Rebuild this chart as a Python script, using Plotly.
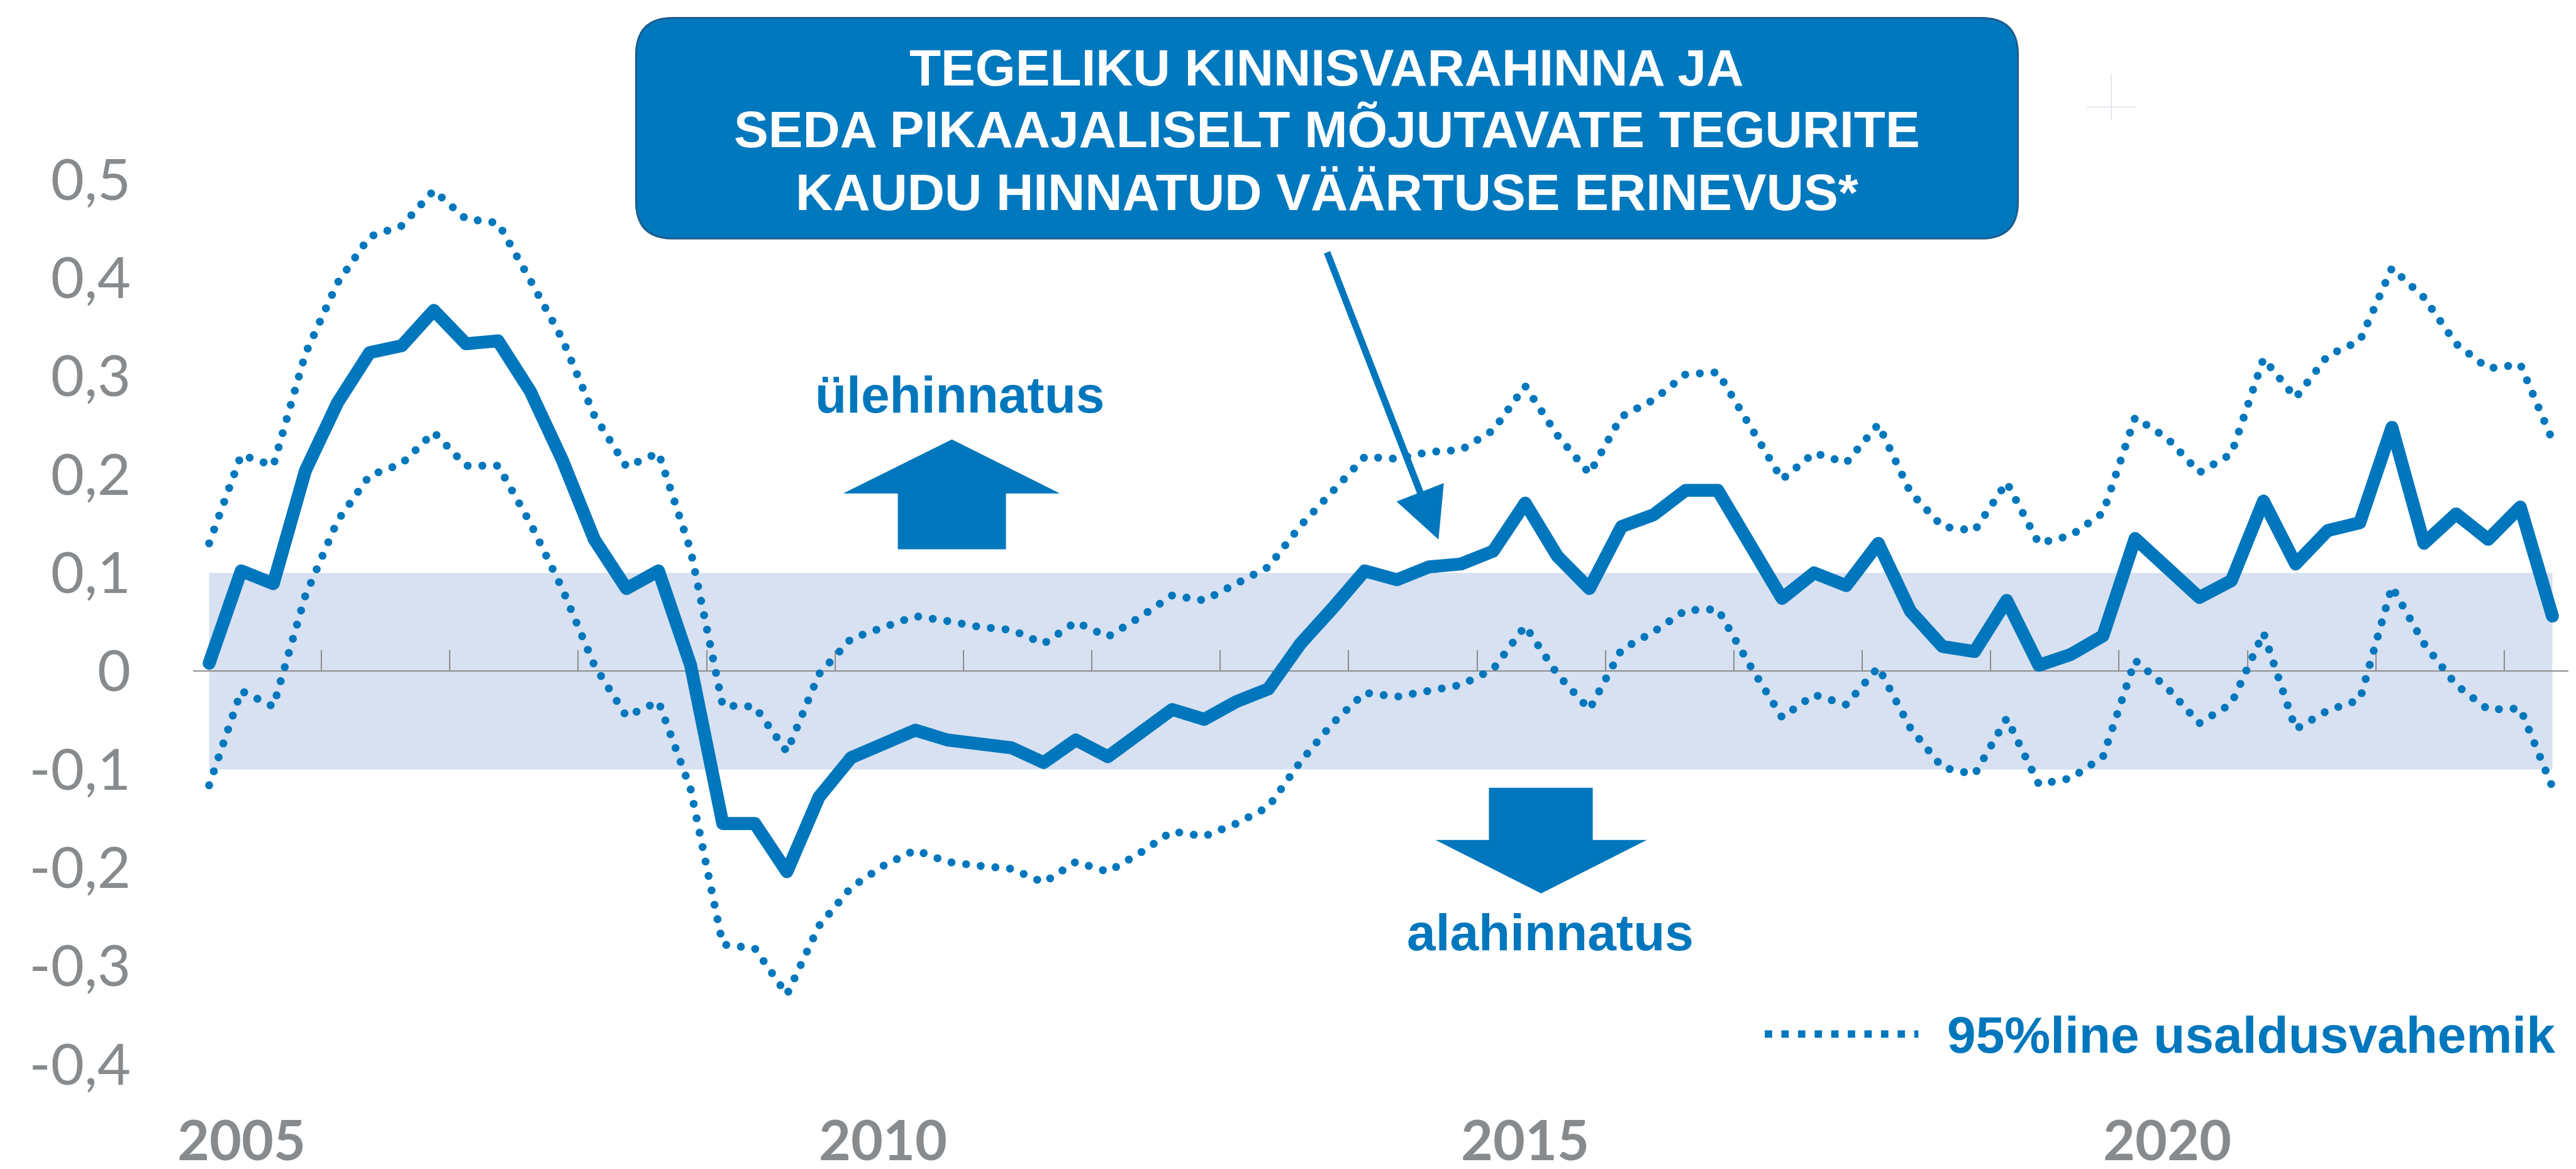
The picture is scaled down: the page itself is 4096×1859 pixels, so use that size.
import plotly.graph_objects as go

# ---------------- data (quarterly, 2005Q1 .. 2023Q2) ----------------
quarters = [f"{2005 + i // 4}Q{i % 4 + 1}" for i in range(74)]

gap = [0.008, 0.102, 0.089, 0.204, 0.273, 0.324, 0.331, 0.367, 0.333, 0.336,
       0.285, 0.215, 0.134, 0.084, 0.102, 0.006, -0.155, -0.155, -0.204, -0.128,
       -0.088, -0.074, -0.060, -0.070, -0.075, -0.078, -0.093, -0.070, -0.087, -0.063,
       -0.039, -0.049, -0.031, -0.018, 0.028, 0.064, 0.102, 0.093, 0.106, 0.109,
       0.122, 0.171, 0.117, 0.084, 0.147, 0.159, 0.184, 0.184, 0.131, 0.074,
       0.100, 0.087, 0.130, 0.061, 0.025, 0.020, 0.072, 0.006, 0.017, 0.036,
       0.135, 0.106, 0.075, 0.092, 0.173, 0.109, 0.143, 0.151, 0.248, 0.130,
       0.160, 0.134, 0.167, 0.056]

upper = [0.130, 0.220, 0.209, 0.323, 0.395, 0.442, 0.453, 0.489, 0.460, 0.456,
         0.398, 0.338, 0.260, 0.208, 0.222, 0.123, -0.035, -0.036, -0.082, -0.003,
         0.033, 0.044, 0.056, 0.051, 0.045, 0.042, 0.028, 0.050, 0.035, 0.055,
         0.077, 0.072, 0.089, 0.106, 0.148, 0.184, 0.218, 0.216, 0.223, 0.225,
         0.245, 0.290, 0.240, 0.201, 0.259, 0.276, 0.302, 0.304, 0.248, 0.195,
         0.222, 0.212, 0.251, 0.182, 0.147, 0.143, 0.192, 0.130, 0.138, 0.161,
         0.258, 0.237, 0.202, 0.221, 0.318, 0.278, 0.321, 0.336, 0.410, 0.380,
         0.333, 0.308, 0.312, 0.235]

lower = [-0.116, -0.020, -0.036, 0.077, 0.153, 0.199, 0.211, 0.243, 0.209, 0.209,
         0.151, 0.084, 0.006, -0.046, -0.031, -0.120, -0.278, -0.282, -0.329, -0.259,
         -0.220, -0.198, -0.182, -0.194, -0.198, -0.201, -0.215, -0.194, -0.204, -0.185,
         -0.163, -0.168, -0.155, -0.138, -0.092, -0.053, -0.022, -0.026, -0.020, -0.014,
         0.002, 0.046, -0.003, -0.039, 0.022, 0.040, 0.062, 0.063, 0.006, -0.047,
         -0.024, -0.034, 0.004, -0.058, -0.098, -0.105, -0.048, -0.115, -0.109, -0.087,
         0.011, -0.017, -0.053, -0.033, 0.039, -0.059, -0.040, -0.029, 0.086, 0.028,
         -0.014, -0.039, -0.038, -0.118]

band_low, band_high = -0.1, 0.1

y_tick_vals = [0.5, 0.4, 0.3, 0.2, 0.1, 0.0, -0.1, -0.2, -0.3, -0.4]
y_tick_text = ["0,5", "0,4", "0,3", "0,2", "0,1", "0", "-0,1", "-0,2", "-0,3", "-0,4"]

year_labels = ["2005", "2010", "2015", "2020"]
year_label_quarters = ["2005Q2", "2010Q2", "2015Q2", "2020Q2"]

title_lines = ["TEGELIKU KINNISVARAHINNA JA",
               "SEDA PIKAAJALISELT MÕJUTAVATE TEGURITE",
               "KAUDU HINNATUD VÄÄRTUSE ERINEVUS*"]
over_label = "ülehinnatus"
under_label = "alahinnatus"
legend_label = "95%line usaldusvahemik"

# ---------------- layout geometry ----------------
S = 0.977                    # reference -> window scale
WIN_W, WIN_H = 4096, 1859
ML, MR, MT, MB = 299, 20, 90, 18
PW = WIN_W - ML - MR
PH = WIN_H - MT - MB

BLUE = "#0077BD"
GREY = "#878B8E"
AXIS_GREY = "#8C8C8C"
BAND = "#D7E1F1"


def xp(xf):
    return (xf * S - ML) / PW


def yp(yf):
    return (WIN_H - MB - yf * S) / PH


def path_from(points, close=True):
    d = "M " + " L ".join(f"{xp(x):.5f},{yp(y):.5f}" for x, y in points)
    return d + (" Z" if close else "")


def rounded_rect(x0, y0, x1, y1, r):
    def P(x, y):
        return f"{xp(x):.5f},{yp(y):.5f}"
    return (f"M {P(x0 + r, y0)} L {P(x1 - r, y0)} Q {P(x1, y0)} {P(x1, y0 + r)} "
            f"L {P(x1, y1 - r)} Q {P(x1, y1)} {P(x1 - r, y1)} "
            f"L {P(x0 + r, y1)} Q {P(x0, y1)} {P(x0, y1 - r)} "
            f"L {P(x0, y0 + r)} Q {P(x0, y0)} {P(x0 + r, y0)} Z")


xs = list(range(len(quarters)))

fig = go.Figure()
dot_w = 13 * S
dot_dash = f"0px,{24 * S:.1f}px"
fig.add_trace(go.Scatter(x=xs, y=upper, mode="lines", name="upper", hovertext=quarters,
                         line=dict(color=BLUE, width=dot_w, dash=dot_dash)))
fig.add_trace(go.Scatter(x=xs, y=lower, mode="lines", name="lower", hovertext=quarters,
                         line=dict(color=BLUE, width=dot_w, dash=dot_dash)))
fig.add_trace(go.Scatter(x=xs, y=gap, mode="lines", name="gap", hovertext=quarters,
                         line=dict(color=BLUE, width=21 * S)))

shapes = []
# shaded +-0.1 band spanning the data
shapes.append(dict(type="rect", xref="x", yref="y", x0=xs[0], x1=xs[-1],
                   y0=band_low, y1=band_high, fillcolor=BAND, line=dict(width=0),
                   layer="below"))
# title box
shapes.append(dict(type="path", xref="paper", yref="paper",
                   path=rounded_rect(1027, 21, 3276, 380, 60),
                   fillcolor="#0078BE", line=dict(color="#1D5C8E", width=3),
                   layer="above"))
# up arrow
shapes.append(dict(type="path", xref="paper", yref="paper",
                   path=path_from([(1541, 707), (1717, 795), (1629, 795), (1629, 886),
                                   (1453, 886), (1453, 795), (1364, 795)]),
                   fillcolor=BLUE, line=dict(width=0), layer="above"))
# down arrow
shapes.append(dict(type="path", xref="paper", yref="paper",
                   path=path_from([(2415, 1274), (2584, 1274), (2584, 1359), (2672, 1359),
                                   (2500, 1446), (2328, 1359), (2415, 1359)]),
                   fillcolor=BLUE, line=dict(width=0), layer="above"))
# legend sample (dotted)
shapes.append(dict(type="line", xref="paper", yref="paper",
                   x0=xp(2864), x1=xp(3114), y0=yp(1675), y1=yp(1675),
                   line=dict(color=BLUE, width=12 * S, dash=f"{12 * S:.1f}px,{15 * S:.1f}px"),
                   layer="above"))
# faint cross mark (top right)
shapes.append(dict(type="line", xref="paper", yref="paper",
                   x0=xp(3388), x1=xp(3468), y0=yp(166), y1=yp(166),
                   line=dict(color="#E3E7EE", width=2)))
shapes.append(dict(type="line", xref="paper", yref="paper",
                   x0=xp(3428), x1=xp(3428), y0=yp(112), y1=yp(187),
                   line=dict(color="#E3E7EE", width=2)))

annotations = []
title_font = dict(family="Liberation Sans, Arial, sans-serif", size=84 * S, color="white",
                  weight="bold")
for line, yc in zip(title_lines, [101.5, 202.5, 304.5]):
    annotations.append(dict(text=line, xref="paper", yref="paper", x=xp(2151), y=yp(yc),
                            xanchor="center", yanchor="middle", showarrow=False,
                            font=title_font))
lab_font = dict(family="Liberation Sans, Arial, sans-serif", size=84 * S, color=BLUE,
                weight="bold")
annotations.append(dict(text=over_label, xref="paper", yref="paper", x=xp(1554), y=yp(634),
                        xanchor="center", yanchor="middle", showarrow=False, font=lab_font))
annotations.append(dict(text=under_label, xref="paper", yref="paper", x=xp(2515), y=yp(1509),
                        xanchor="center", yanchor="middle", showarrow=False, font=lab_font))
annotations.append(dict(text=legend_label, xref="paper", yref="paper", x=xp(3159), y=yp(1676),
                        xanchor="left", yanchor="middle", showarrow=False, font=lab_font))
# pointer arrow from the title box to the series
annotations.append(dict(text="", xref="paper", yref="paper", x=xp(2333), y=yp(870),
                        ax=(2151 - 2333) * S, ay=(401 - 870) * S, showarrow=True,
                        arrowhead=2, arrowsize=1.5, arrowwidth=11 * S, arrowcolor=BLUE))
# year labels
for lab, q in zip(year_labels, year_label_quarters):
    annotations.append(dict(text=lab, xref="x", yref="paper", x=quarters.index(q),
                            y=(WIN_H - MB - 1803) / PH, xanchor="center", yanchor="middle",
                            showarrow=False,
                            font=dict(family="Lato", size=88, color=GREY, weight="bold")))

tick_pos = [i - 0.5 for i in range(0, len(quarters), 4)]

fig.update_layout(
    width=WIN_W, height=WIN_H,
    margin=dict(l=ML, r=MR, t=MT, b=MB, pad=0),
    paper_bgcolor="white", plot_bgcolor="white",
    showlegend=False,
    shapes=shapes, annotations=annotations,
    xaxis=dict(range=[-0.5, len(quarters) - 0.5], anchor="free", position=0.5 / 1.12,
               showline=True, linecolor=AXIS_GREY, linewidth=2,
               ticks="inside", ticklen=33 * S, tickwidth=2, tickcolor=AXIS_GREY,
               tickmode="array", tickvals=tick_pos, showticklabels=False,
               showgrid=False, zeroline=False, layer="below traces"),
    yaxis=dict(range=[-0.5, 0.62], tickmode="array", tickvals=y_tick_vals,
               ticktext=y_tick_text, showgrid=False, zeroline=False, showline=False,
               ticks="", ticklabelstandoff=98,
               tickfont=dict(family="Lato", size=94 * S, color=GREY)),
)

post = ("var s=document.createElement('style');"
        "s.innerHTML='.scatterlayer path.js-line{stroke-linecap:round;stroke-linejoin:round;}';"
        "document.head.appendChild(s);")
fig.write_html("out.html", post_script=post)
